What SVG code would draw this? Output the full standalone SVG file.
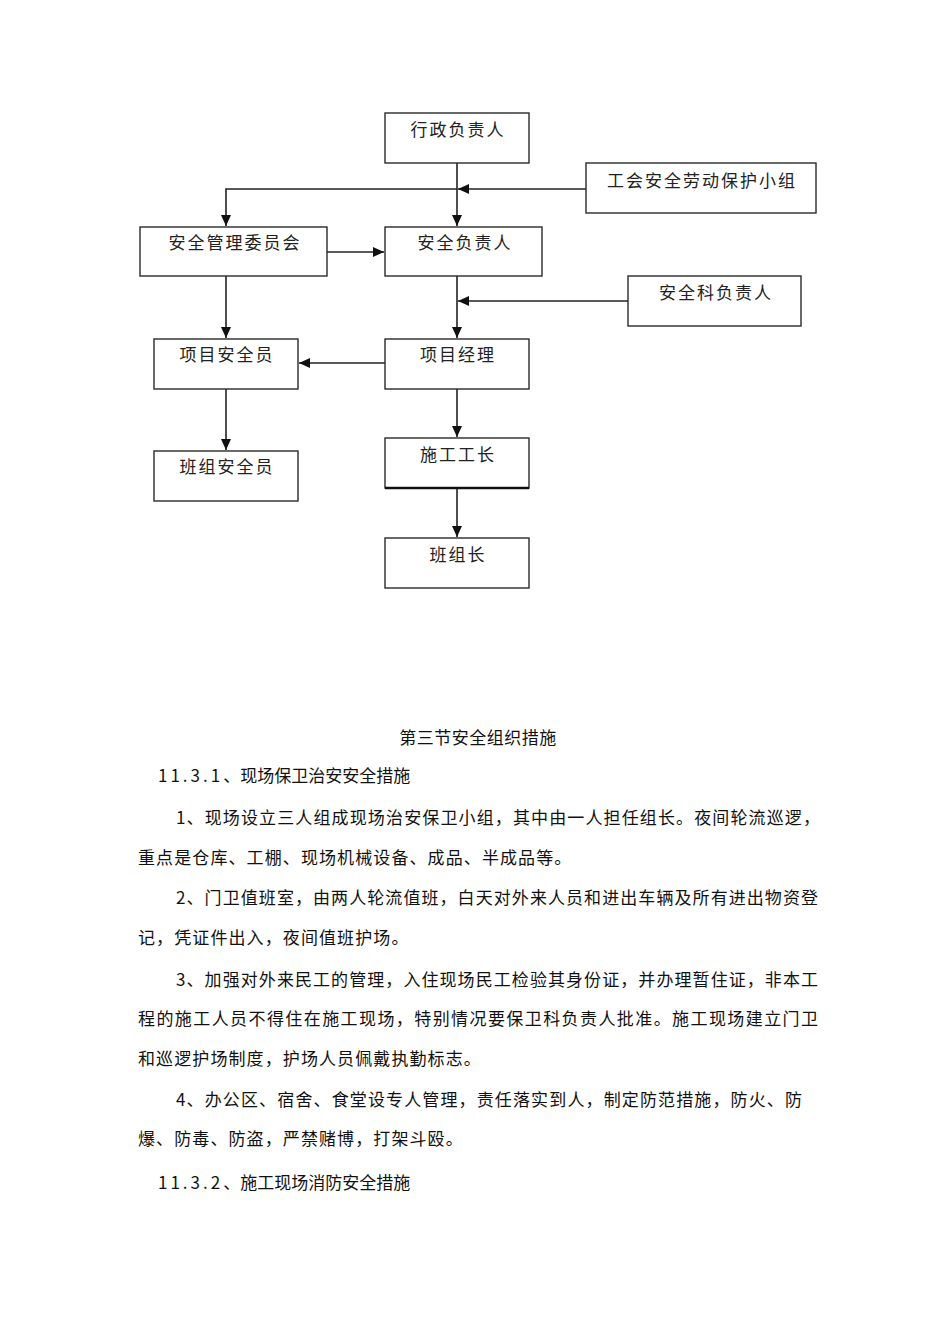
<svg xmlns="http://www.w3.org/2000/svg" width="950" height="1344" viewBox="0 0 950 1344">
<style>
.box{fill:#fff;stroke:#2a2a2a;stroke-width:1.4}
.lbl{font-family:"Noto Sans CJK SC","Noto Sans CJK JP",sans-serif;font-size:17px;letter-spacing:2px;fill:#222;text-anchor:middle}
.con{fill:none;stroke:#222;stroke-width:1.6}
.body{font-family:"Noto Sans CJK SC","Noto Sans CJK JP",sans-serif;font-size:17px;fill:#111}
.num{letter-spacing:3px}
</style>
<defs>
<marker id="ah" markerUnits="userSpaceOnUse" markerWidth="12" markerHeight="10" refX="11" refY="5" orient="auto">
<path d="M0,0 L11,5 L0,10 Z" fill="#111"/>
</marker>
</defs>
<rect width="950" height="1344" fill="#fff"/>
<g id="connectors">
<path class="con" d="M457,163 V226" marker-end="url(#ah)"/>
<path class="con" d="M586,189 H458" marker-end="url(#ah)"/>
<path class="con" d="M457,189 H226 V226" marker-end="url(#ah)"/>
<path class="con" d="M327,252 H384" marker-end="url(#ah)"/>
<path class="con" d="M457,276 V338" marker-end="url(#ah)"/>
<path class="con" d="M628,301 H458" marker-end="url(#ah)"/>
<path class="con" d="M226,276 V338" marker-end="url(#ah)"/>
<path class="con" d="M385,363 H299" marker-end="url(#ah)"/>
<path class="con" d="M226,389 V450" marker-end="url(#ah)"/>
<path class="con" d="M457,389 V437" marker-end="url(#ah)"/>
<path class="con" d="M457,488 V537" marker-end="url(#ah)"/>
</g>
<g id="n1"><rect class="box" x="385" y="113" width="144" height="50"/><text class="lbl" x="458" y="136">行政负责人</text></g>
<g id="n2"><rect class="box" x="586" y="163" width="230" height="50"/><text class="lbl" x="702" y="187">工会安全劳动保护小组</text></g>
<g id="n3"><rect class="box" x="140" y="227" width="187" height="49"/><text class="lbl" x="235" y="249">安全管理委员会</text></g>
<g id="n4"><rect class="box" x="385" y="227" width="157" height="49"/><text class="lbl" x="465" y="249">安全负责人</text></g>
<g id="n5"><rect class="box" x="628" y="276" width="173" height="50"/><text class="lbl" x="716" y="299">安全科负责人</text></g>
<g id="n6"><rect class="box" x="154" y="339" width="144" height="50"/><text class="lbl" x="227" y="361">项目安全员</text></g>
<g id="n7"><rect class="box" x="385" y="339" width="144" height="50"/><text class="lbl" x="458" y="361">项目经理</text></g>
<g id="n8"><rect class="box" x="154" y="451" width="144" height="50"/><text class="lbl" x="227" y="473">班组安全员</text></g>
<g id="n9"><rect class="box" x="385" y="438" width="144" height="50"/><line x1="385" y1="488" x2="529" y2="488" stroke="#111" stroke-width="2.4"/><text class="lbl" x="458" y="461">施工工长</text></g>
<g id="n10"><rect class="box" x="385" y="538" width="144" height="50"/><text class="lbl" x="458" y="561">班组长</text></g>
<g id="text">
<text class="body" x="478" y="744" text-anchor="middle" letter-spacing="0.5">第三节安全组织措施</text>
<text class="body" x="158" y="782"><tspan class="num">11.3.1</tspan>、现场保卫治安安全措施</text>
<text class="body" x="176" y="824" textLength="644" lengthAdjust="spacing">1、现场设立三人组成现场治安保卫小组，其中由一人担任组长。夜间轮流巡逻，</text>
<text class="body" x="138" y="864" letter-spacing="1.1">重点是仓库、工棚、现场机械设备、成品、半成品等。</text>
<text class="body" x="176" y="904" textLength="642" lengthAdjust="spacing">2、门卫值班室，由两人轮流值班，白天对外来人员和进出车辆及所有进出物资登</text>
<text class="body" x="138" y="944" letter-spacing="1.1">记，凭证件出入，夜间值班护场。</text>
<text class="body" x="176" y="986" textLength="642" lengthAdjust="spacing">3、加强对外来民工的管理，入住现场民工检验其身份证，并办理暂住证，非本工</text>
<text class="body" x="138" y="1025" textLength="680" lengthAdjust="spacing">程的施工人员不得住在施工现场，特别情况要保卫科负责人批准。施工现场建立门卫</text>
<text class="body" x="138" y="1065" letter-spacing="1.1">和巡逻护场制度，护场人员佩戴执勤标志。</text>
<text class="body" x="176" y="1106" textLength="626" lengthAdjust="spacing">4、办公区、宿舍、食堂设专人管理，责任落实到人，制定防范措施，防火、防</text>
<text class="body" x="138" y="1145" letter-spacing="1.1">爆、防毒、防盗，严禁赌博，打架斗殴。</text>
<text class="body" x="158" y="1189"><tspan class="num">11.3.2</tspan>、施工现场消防安全措施</text>
</g>
</svg>
